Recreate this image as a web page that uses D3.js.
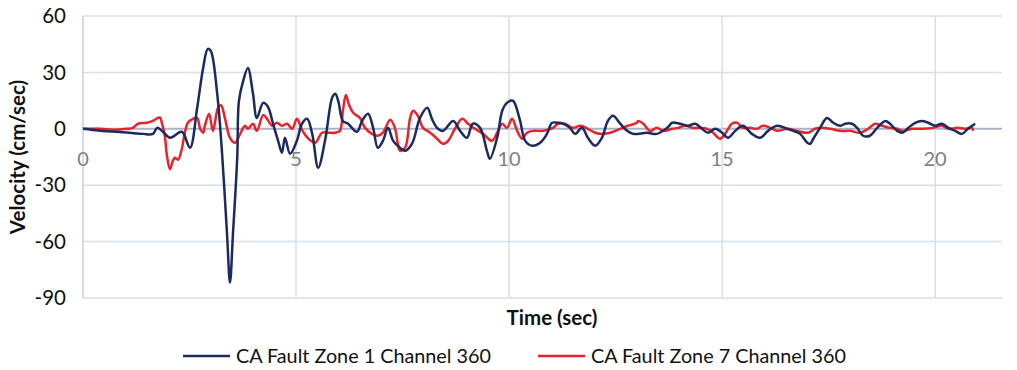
<!DOCTYPE html>
<html><head><meta charset="utf-8">
<script src="https://cdn.jsdelivr.net/npm/d3@7"></script>
<style>body{margin:0;background:#fff;} text{font-family:Lato,"Open Sans",sans-serif;}</style>
</head><body><svg id="c" width="1017" height="370"></svg>
<script>
const seriesNames = ["CA Fault Zone 1 Channel 360", "CA Fault Zone 7 Channel 360"];
const xTicks = [0, 5, 10, 15, 20];
const yTicks = [60, 30, 0, -30, -60, -90];

const zone1Time = [0,0.4,1.03,1.41,1.64,1.74,1.85,2.04,2.32,2.51,2.68,2.82,2.93,3.0,3.15,3.26,3.38,3.45,3.52,3.62,3.66,3.76,3.87,3.99,4.08,4.23,4.34,4.46,4.58,4.67,4.74,4.86,5.02,5.14,5.26,5.38,5.52,5.68,5.85,5.92,5.99,6.1,6.22,6.43,6.55,6.69,6.81,6.92,7.04,7.16,7.28,7.44,7.56,7.72,7.91,8.08,8.19,8.31,8.45,8.69,8.85,9.01,9.15,9.32,9.48,9.55,9.72,9.84,9.95,10.09,10.14,10.26,10.38,10.54,10.73,10.89,11.01,11.13,11.27,11.43,11.55,11.71,11.85,12.02,12.18,12.32,12.44,12.61,12.77,12.91,13.24,13.47,13.71,13.83,14.01,14.2,14.37,14.53,14.67,14.84,15.0,15.14,15.31,15.49,15.7,15.89,16.08,16.29,16.53,16.67,16.83,17.0,17.07,17.14,17.3,17.46,17.61,17.77,17.89,18.05,18.17,18.31,18.47,18.64,18.83,18.94,19.11,19.23,19.37,19.53,19.69,19.84,20.0,20.16,20.31,20.47,20.63,20.77,20.94];
const zone1Vel = [0,-1.0,-2.0,-2.7,-2.7,0.5,-1.0,-4.7,-1.6,-10.1,11.2,32.4,42.5,41.4,18.6,-11.7,-55.8,-81.8,-55.8,-15.4,14.9,25.5,32.4,18.6,5.8,13.8,11.7,2.7,-6.4,-12.7,-4.8,-13.3,-6.4,2.7,5.3,-2.7,-20.7,-6.4,16.6,18.6,14.9,4.2,2.7,-1.6,4.2,8.0,0.5,-10.1,-6.4,0.5,-6.4,-10.1,-11.7,-8.0,5.8,11.2,5.3,0.5,-1.1,4.2,-1.1,-4.8,2.7,0.5,-11.7,-15.9,-4.8,9.6,13.8,14.9,13.3,4.2,-6.4,-9.0,-7.4,-2.7,3.2,3.2,2.7,0.5,-2.7,0.5,-4.8,-9.0,-4.8,4.2,6.9,2.7,-1.1,-2.7,-2.1,-2.7,0.5,3.2,2.7,1.6,2.7,0,-2.1,0,-2.1,-4.8,-1.1,1.6,-2.7,-4.8,-1.1,1.6,0,-1.1,-2.7,-7.4,-8.0,-5.3,0.5,5.8,3.2,1.6,2.7,2.7,0.5,-3.7,-3.7,0.5,4.2,2.7,-1.1,-2.1,0.5,3.2,4.2,3.2,1.6,2.7,0.5,-1.1,-2.7,0,2.7];

const zone7Time = [0,0.4,0.7,1.03,1.17,1.29,1.5,1.64,1.76,1.81,1.85,1.88,1.92,1.97,2.04,2.11,2.16,2.23,2.32,2.39,2.46,2.58,2.68,2.75,2.82,2.86,2.96,3.05,3.17,3.24,3.33,3.45,3.57,3.69,3.8,3.87,3.99,4.08,4.23,4.32,4.44,4.55,4.67,4.79,4.91,5.02,5.14,5.28,5.45,5.61,5.75,5.92,6.03,6.1,6.17,6.24,6.34,6.5,6.62,6.78,6.92,7.04,7.21,7.32,7.39,7.44,7.56,7.68,7.75,7.86,7.98,8.15,8.31,8.45,8.57,8.73,8.9,9.04,9.2,9.39,9.6,9.72,9.84,9.95,10.07,10.19,10.31,10.42,10.56,10.8,11.03,11.15,11.31,11.5,11.67,11.85,12.02,12.21,12.37,12.61,12.79,13.0,13.03,13.15,13.31,13.47,13.62,13.83,13.97,14.13,14.32,14.48,14.65,14.79,14.95,15.07,15.23,15.35,15.49,15.66,15.82,15.96,16.13,16.29,16.53,16.76,17.02,17.18,17.35,17.54,17.77,18.0,18.24,18.43,18.59,18.76,18.94,19.11,19.25,19.48,19.72,19.95,20.16,20.31,20.52,20.7,20.87,20.89];
const zone7Vel = [0,0,-0.5,0,0.5,2.7,3.2,4.2,5.8,6.0,3.2,0.5,-3.7,-14.3,-21.5,-17.0,-15.4,-16.5,-10.6,-2.1,3.2,5.3,5.8,0,-2.1,1.6,8.0,-1.1,11.2,12.5,5.8,-4.8,-7.4,-2.7,1.6,0,2.7,-1.1,7.4,5.3,1.6,3.2,1.6,2.7,0,5.3,-0.5,-5.0,-7.4,-2.1,-2.1,-2.1,-1.1,9.6,18.0,13.0,8.5,5.8,0.5,-2.7,-3.7,-2.1,4.8,0.5,-8.0,-11.7,-10.1,6.0,9.6,6.9,0.5,-2.1,-5.3,-8.0,-6.4,0,5.3,2.7,0,-2.7,-6.4,-2.1,2.7,0.5,5.3,-1.1,-5.3,-2.1,-1.1,-1.1,0.5,2.7,2.7,0.5,1.6,0,-2.1,-2.7,-2.1,0,1.6,3.2,4.2,2.7,-1.1,0.5,-1.1,0,0.5,1.6,0.5,0.5,0,-2.1,-5.3,-2.7,2.7,3.2,0.5,0.5,0,1.6,0.5,-1.1,0,-1.1,-2.1,0,0.5,0,-1.1,-1.1,-2.1,0,2.7,1.6,0.5,0,-1.1,0,0,0.5,1.6,0,0.5,0,0.5,-1.1];

const colors = ["#1c2b5e", "#e8232a"];

const svg = d3.select("#c");
const L = 83, R = 1002, T = 16, B = 298;
const x = d3.scaleLinear().domain([0, 21.57]).range([L, R]);
const y = d3.scaleLinear().domain([-90, 60]).range([B, T]);

// horizontal gridlines
svg.append("g").selectAll("line").data(yTicks).join("line")
  .attr("x1", L).attr("x2", R).attr("y1", d => y(d)).attr("y2", d => y(d))
  .attr("stroke", d => d === 0 ? "#aab3c5" : "#d9dde5").attr("stroke-width", d => d === 0 ? 2 : 1.5);
// vertical gridlines
svg.append("g").selectAll("line").data(xTicks.slice(1)).join("line")
  .attr("x1", d => x(d)).attr("x2", d => x(d)).attr("y1", T).attr("y2", B)
  .attr("stroke", "#d9dde5").attr("stroke-width", 1.5);
// left axis line
svg.append("line").attr("x1", L).attr("x2", L).attr("y1", T).attr("y2", B)
  .attr("stroke", "#c9cfdb").attr("stroke-width", 1.5);

// y tick labels
svg.append("g").selectAll("text").data(yTicks).join("text")
  .attr("x", 66).attr("y", d => y(d)).attr("dy", "0.35em").attr("text-anchor", "end")
  .attr("font-size", 20.5).attr("fill", "#111").text(d => d);
// x tick labels
svg.append("g").selectAll("text").data(xTicks).join("text")
  .attr("x", d => x(d)).attr("y", y(0) + 37).attr("text-anchor", "middle")
  .attr("font-size", 20).attr("fill", "#7f7f7f").text(d => d);

// axis titles
svg.append("text").attr("transform", `translate(25,${(T + B) / 2}) rotate(-90)`)
  .attr("text-anchor", "middle").attr("font-size", 20.5).attr("font-weight", "bold").attr("fill", "#111")
  .text("Velocity (cm/sec)");
svg.append("text").attr("x", 552).attr("y", 325).attr("text-anchor", "middle")
  .attr("font-size", 20.5).attr("font-weight", "bold").attr("fill", "#111").text("Time (sec)");

// lines
const series = [
  {t: zone1Time, v: zone1Vel},
  {t: zone7Time, v: zone7Vel}
];
const line = d3.line().x(d => x(d[0])).y(d => y(d[1])).curve(d3.curveCatmullRom.alpha(0.5));
[1, 0].forEach(i => {
  const pts = series[i].t.map((t, k) => [t, series[i].v[k]]);
  svg.append("path").datum(pts).attr("d", line).attr("fill", "none")
    .attr("stroke", colors[i]).attr("stroke-width", 2.5).attr("stroke-linejoin", "round");
});

// legend
const legX = [183, 538];
seriesNames.forEach((n, i) => {
  const g = svg.append("g").attr("transform", `translate(${legX[i]},356)`);
  g.append("line").attr("x1", 0).attr("x2", 47).attr("stroke", colors[i]).attr("stroke-width", 2.5);
  g.append("text").attr("x", 53).attr("dy", "0.35em").attr("font-size", 19.8).attr("fill", "#111").text(n);
});
</script></body></html>
